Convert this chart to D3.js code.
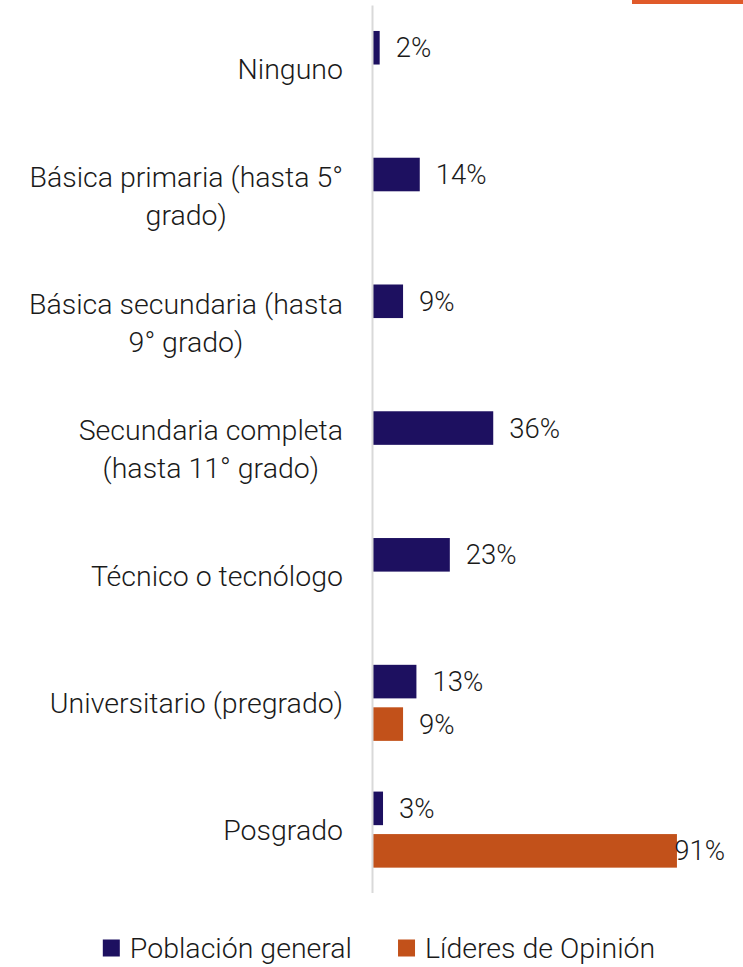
<!DOCTYPE html>
<html><head><meta charset="utf-8">
<script src="https://cdn.jsdelivr.net/npm/d3@7"></script>
<style>
html,body{margin:0;padding:0;background:#fff;}
svg{display:block;font-family:Roboto,"Noto Sans",sans-serif;font-weight:300;}
</style></head>
<body>
<svg id="chart" width="743" height="967"></svg>
<script>
const categories = [
  ["Ninguno"],
  ["Básica primaria (hasta 5°", "grado)"],
  ["Básica secundaria (hasta", "9° grado)"],
  ["Secundaria completa", "(hasta 11° grado)"],
  ["Técnico o tecnólogo"],
  ["Universitario (pregrado)"],
  ["Posgrado"]
];
const seriesNames = ["Población general", "Líderes de Opinión"];
const poblacionGeneral = [2, 14, 9, 36, 23, 13, 3];
const lideresOpinion = [null, null, null, null, null, 9, 91];
const seriesColors = ["#1d1060", "#c2511a"];

const svg = d3.select("#chart");
const fontSize = 28.5;
const valueFontSize = 27.5;
const textColor = "#1a1a1a";

// decorative header strip top-right
svg.append("rect").attr("x", 632).attr("y", 0).attr("width", 111).attr("height", 4).attr("fill", "#e05a2a");

const catKeys = categories.map((c, i) => i);
const y = d3.scaleBand().domain(catKeys).range([5.6, 893]).paddingInner(0.4).paddingOuter(0.2);
const ySub = d3.scaleBand().domain([0, 1]).range([0, y.bandwidth()]).paddingInner(0.21);
const x = d3.scaleLinear().domain([0, 100]).range([373, 707]);

const data = [];
catKeys.forEach(i => {
  [poblacionGeneral[i], lideresOpinion[i]].forEach((v, s) => {
    if (v != null) data.push({cat: i, s, v});
  });
});

// bars
svg.append("g").selectAll("rect").data(data).join("rect")
  .attr("x", x(0))
  .attr("y", d => y(d.cat) + ySub(d.s))
  .attr("width", d => x(d.v) - x(0))
  .attr("height", ySub.bandwidth())
  .attr("fill", d => seriesColors[d.s]);

// axis line
svg.append("line").attr("x1", 372.5).attr("x2", 372.5)
  .attr("y1", y.range()[0]).attr("y2", y.range()[1])
  .attr("stroke", "#d9d9d9").attr("stroke-width", 2);

// value labels
const vl = svg.append("g").selectAll("text").data(data).join("text")
  .attr("y", d => y(d.cat) + ySub(d.s) + ySub.bandwidth() / 2)
  .attr("dy", "0.35em")
  .attr("font-size", valueFontSize).attr("fill", textColor)
  .text(d => d.v + "%");
vl.each(function(d) {
  const w = this.getComputedTextLength();
  const xe = x(d.v);
  d3.select(this).attr("x", Math.min(xe + 16, 725 - w));
});

// category labels
const lineH = 38;
const cg = svg.append("g");
categories.forEach((lines, i) => {
  const cy = y(i) + y.bandwidth() / 2;
  const t = cg.append("text").attr("font-size", fontSize).attr("fill", textColor).attr("text-anchor", "middle");
  const n = lines.length;
  const tsp = lines.map((ln, k) => t.append("tspan").attr("y", cy + (k - (n - 1) / 2) * lineH).attr("dy", "0.35em").text(ln));
  let maxW = 0;
  tsp.forEach(s => { maxW = Math.max(maxW, s.node().getComputedTextLength()); });
  tsp.forEach(s => s.attr("x", 343 - maxW / 2));
});

// legend
const lg = svg.append("g");
const ly = 948, sq = 17, gapSq = 10, gapItem = 46;
let items = seriesNames.map((nm, s) => {
  const g = lg.append("g");
  g.append("rect").attr("width", sq).attr("height", sq).attr("y", ly - sq / 2).attr("fill", seriesColors[s]);
  const t = g.append("text").attr("x", sq + gapSq).attr("y", ly).attr("dy", "0.35em")
    .attr("font-size", fontSize).attr("fill", textColor).text(nm);
  return {g, w: sq + gapSq + t.node().getComputedTextLength()};
});
const total = d3.sum(items, d => d.w) + gapItem * (items.length - 1);
let cx = 379 - total / 2;
items.forEach(it => { it.g.attr("transform", `translate(${cx},0)`); cx += it.w + gapItem; });
</script>
</body></html>
